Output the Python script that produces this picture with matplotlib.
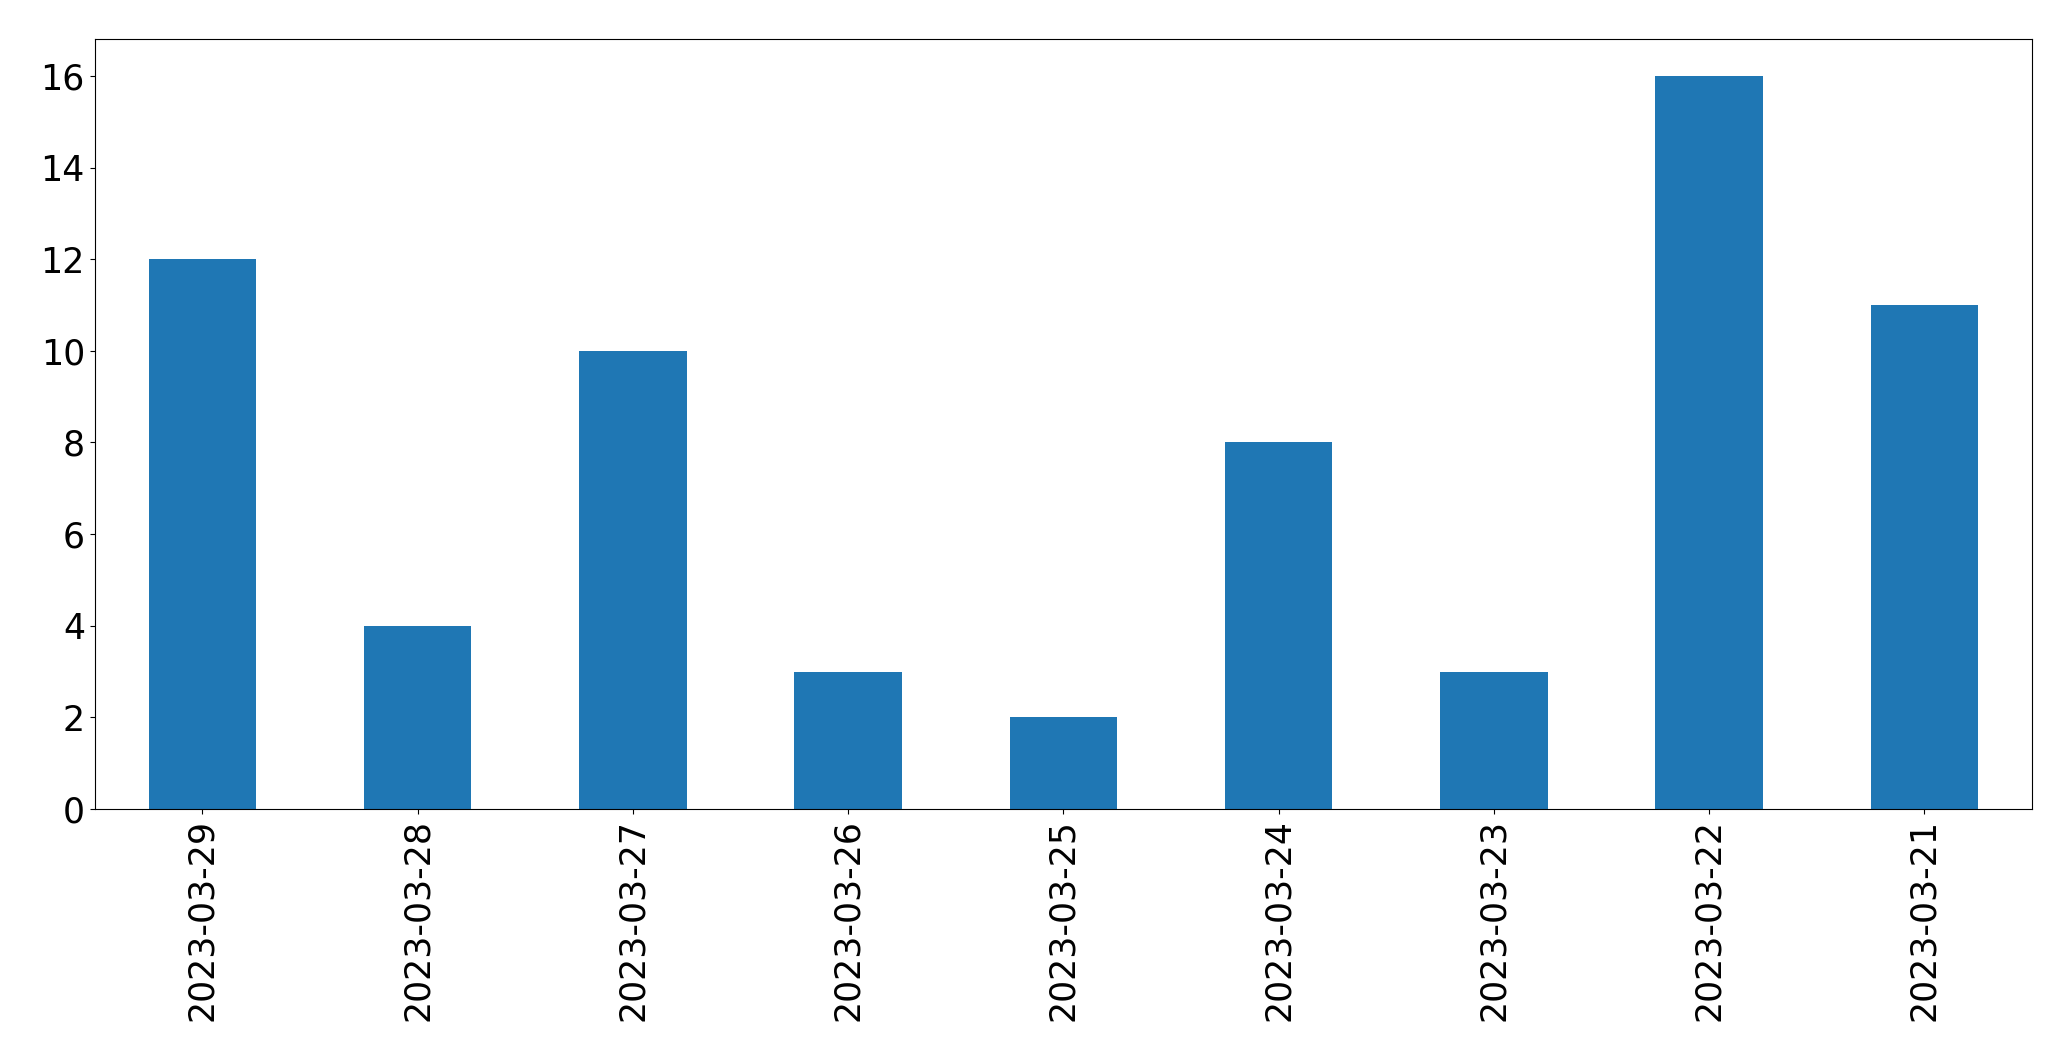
import pandas as pd
import matplotlib
matplotlib.use("Agg")
import matplotlib.pyplot as plt

dates  = ["2023-03-29", "2023-03-28", "2023-03-27", "2023-03-26", "2023-03-25",
          "2023-03-24", "2023-03-23", "2023-03-22", "2023-03-21"]
counts = [12, 4, 10, 3, 2, 8, 3, 16, 11]

s = pd.Series(counts, index=dates)

fig = plt.figure(figsize=(20.71, 10.61), dpi=100)
ax = fig.add_axes([94.7/2071, 1-809/1061, (2032-94.7)/2071, (809-39.3)/1061])
s.plot(kind="bar", ax=ax, color="#1f77b4", fontsize=25)
ax.tick_params(axis="x", labelrotation=90)
fig.savefig("out.png", dpi=100)
plt.close()
